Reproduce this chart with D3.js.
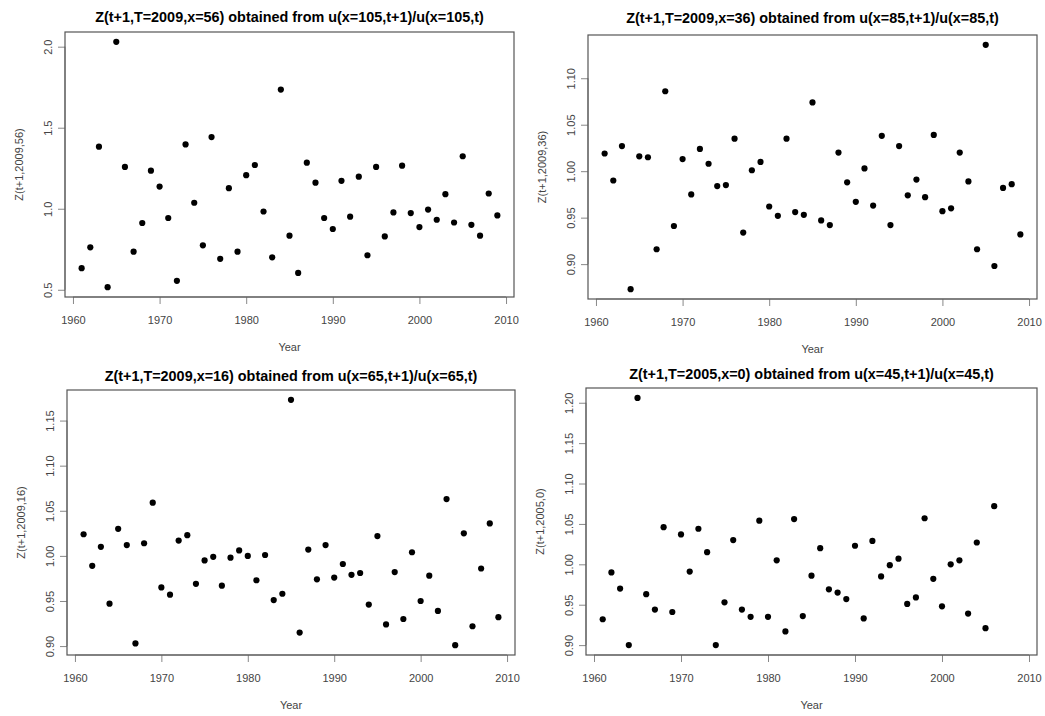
<!DOCTYPE html>
<html><head><meta charset="utf-8">
<script src="https://cdn.jsdelivr.net/npm/d3@7"></script>
<style>body{margin:0;background:#fff;} svg{display:block;font-family:"Liberation Sans",Arial,sans-serif;}</style>
</head><body>
<svg id="c" width="1045" height="716"></svg>
<script>
const years = d3.range(1961, 2010);
const xTicks = [1960, 1970, 1980, 1990, 2000, 2010];

const titles = [
  "Z(t+1,T=2009,x=56) obtained from u(x=105,t+1)/u(x=105,t)",
  "Z(t+1,T=2009,x=36) obtained from u(x=85,t+1)/u(x=85,t)",
  "Z(t+1,T=2009,x=16) obtained from u(x=65,t+1)/u(x=65,t)",
  "Z(t+1,T=2005,x=0) obtained from u(x=45,t+1)/u(x=45,t)"
];
const yLabels = ["Z(t+1,2009,56)", "Z(t+1,2009,36)", "Z(t+1,2009,16)", "Z(t+1,2005,0)"];
const xLabel = "Year";

const z56 = [0.633,0.762,1.383,0.516,2.030,1.258,0.735,0.912,1.235,1.137,0.943,0.555,1.397,1.037,0.774,1.442,0.691,1.127,0.735,1.207,1.270,0.983,
  0.700,1.735,0.834,0.604,1.284,1.161,0.943,0.875,1.172,0.951,1.198,0.713,1.258,0.829,0.977,1.266,0.973,0.887,0.995,0.932,1.090,0.915,1.324,0.901,0.834,1.094,0.959];
const z36 = [1.019,0.990,1.027,0.873,1.016,1.015,0.916,1.086,0.941,1.013,0.975,1.024,1.008,0.984,0.985,1.035,0.934,1.001,1.010,0.962,0.952,
  1.035,0.956,0.953,1.074,0.947,0.942,1.020,0.988,0.967,1.003,0.963,1.038,0.942,1.027,0.974,0.991,0.972,1.039,0.957,0.960,1.020,0.989,0.916,1.136,0.898,0.982,0.986,0.932];
const z16 = [1.024,0.989,1.010,0.947,1.030,1.012,0.903,1.014,1.059,0.965,0.957,1.017,1.023,0.969,0.995,0.999,0.967,0.998,1.006,1.000,0.973,1.001,
  0.951,0.958,1.173,0.915,1.007,0.974,1.012,0.976,0.991,0.979,0.981,0.946,1.022,0.924,0.982,0.930,1.004,0.950,0.978,0.939,1.063,0.901,1.025,0.922,0.986,1.036,0.932];
const z0 = [0.932,0.990,0.970,0.900,1.206,0.963,0.944,1.046,0.941,1.037,0.991,1.044,1.015,0.900,0.953,1.030,0.944,0.935,1.054,0.935,1.005,0.917,
  1.056,0.936,0.986,1.020,0.969,0.965,0.957,1.023,0.933,1.029,0.985,0.999,1.007,0.951,0.959,1.057,0.982,0.948,1.000,1.005,0.939,1.027,0.921,1.072,null,null,null];

const yTicks = [
  [0.5, 1.0, 1.5, 2.0],
  [0.90, 0.95, 1.00, 1.05, 1.10],
  [0.90, 0.95, 1.00, 1.05, 1.10, 1.15],
  [0.90, 0.95, 1.00, 1.05, 1.10, 1.15, 1.20]
];
const yFormats = [".1f", ".2f", ".2f", ".2f"];
const series = [z56, z36, z16, z0];

// layout: plot region boxes [left, right, top, bottom] and title baselines
const boxes = [
  [65, 514, 32, 297],
  [588, 1037, 35, 299],
  [67, 515, 390, 655],
  [586, 1037, 388, 655]
];
const titleY = [22, 23, 381, 379];

const svg = d3.select("#c");
const boxColor = "#555", tickColor = "#888", textColor = "#444";

function ext(lo, hi) { const d = (hi - lo) * 0.04; return [lo - d, hi + d]; }

series.forEach((vals, i) => {
  const [L, R, T, B] = boxes[i];
  const g = svg.append("g");
  const x = d3.scaleLinear().domain(ext(d3.min(years), d3.max(years))).range([L, R]);
  const valid = vals.filter(v => v != null);
  const y = d3.scaleLinear().domain(ext(d3.min(valid), d3.max(valid))).range([B, T]);

  const xa = g.append("g").attr("transform", `translate(0,${B})`)
    .call(d3.axisBottom(x).tickValues(xTicks).tickFormat(d3.format("d")).tickSize(7).tickPadding(12));
  const ya = g.append("g").attr("transform", `translate(${L},0)`)
    .call(d3.axisLeft(y).tickValues(yTicks[i]).tickFormat(d3.format(yFormats[i])).tickSize(7).tickPadding(5));
  [xa, ya].forEach(a => {
    a.select(".domain").attr("stroke", tickColor).attr("stroke-width", 1);
    a.selectAll(".tick line").attr("stroke", tickColor);
    a.selectAll("text").attr("fill", textColor).style("font-size", "11px").style("font-family", "Liberation Sans, Arial, sans-serif");
  });
  ya.selectAll(".tick text")
    .attr("x", null).attr("dy", null)
    .attr("text-anchor", "middle")
    .attr("transform", "translate(-17,0) rotate(-90)")
    .attr("dominant-baseline", "central");
  xa.select(".domain").attr("d", `M${x(xTicks[0])},0H${x(xTicks[xTicks.length-1])}`);
  ya.select(".domain").attr("d", `M0,${y(yTicks[i][0])}V${y(yTicks[i][yTicks[i].length-1])}`);

  g.append("rect").attr("x", L).attr("y", T).attr("width", R - L).attr("height", B - T)
    .attr("fill", "none").attr("stroke", boxColor).attr("stroke-width", 1.2);

  const cx = (L + R) / 2;
  g.append("text").attr("x", cx).attr("y", titleY[i]).attr("text-anchor", "middle")
    .style("font-size", "14.4px").style("font-weight", "bold").attr("fill", "#000").text(titles[i]);
  g.append("text").attr("x", cx).attr("y", B + 54).attr("text-anchor", "middle")
    .style("font-size", "11px").attr("fill", textColor).text(xLabel);
  g.append("text").attr("transform", `translate(${L - 46},${(T + B) / 2}) rotate(-90)`)
    .attr("text-anchor", "middle").attr("dominant-baseline", "central")
    .style("font-size", "11px").attr("fill", textColor).text(yLabels[i]);

  g.selectAll("circle").data(years.map((yr, k) => ({ yr, v: vals[k] })).filter(d => d.v != null))
    .join("circle").attr("cx", d => x(d.yr)).attr("cy", d => y(d.v)).attr("r", 3.1).attr("fill", "#000");
});
</script>
</body></html>
